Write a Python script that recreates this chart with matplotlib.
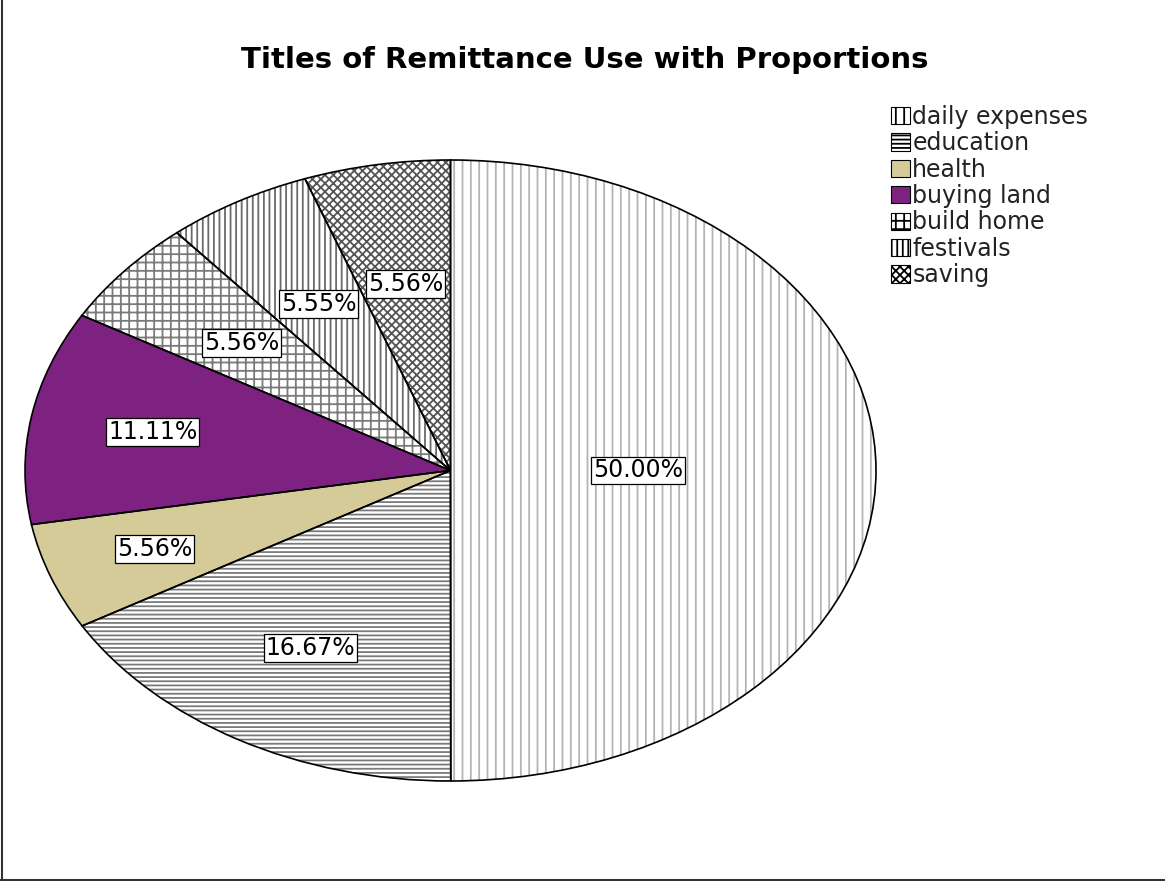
import numpy as np
import matplotlib
matplotlib.use("Agg")
import matplotlib.pyplot as plt
from matplotlib.patches import Patch
from matplotlib.lines import Line2D

categories = ["daily expenses", "education", "health", "buying land",
              "build home", "festivals", "saving"]
shares = [50.00, 16.67, 5.56, 11.11, 5.56, 5.56, 5.56]
share_labels = ["50.00%", "16.67%", "5.56%", "11.11%", "5.56%", "5.55%", "5.56%"]

face_colors = ["white", "white", "#d5cb98", "#7e2282", "white", "white", "white"]
hatches = ["||", "----", "", "", "++", "|||", "xxxx"]
hatch_colors = ["#b4b4b4", "#7a7a7a", "#d5cb98", "#7e2282", "#7a7a7a", "#6a6a6a", "#555555"]
label_dist = [0.44, 0.66, 0.74, 0.71, 0.64, 0.62, 0.61]

plt.rcParams["font.family"] = ["DejaVu Sans"]
plt.rcParams["hatch.linewidth"] = 1.3

fig = plt.figure(figsize=(11.65, 8.81), dpi=100)
ax = fig.add_axes([25 / 1165, 100 / 881, 851 / 1165, 621 / 881])

# filled + hatched wedges
wedges, _ = ax.pie(shares, startangle=90, counterclock=False,
                   wedgeprops=dict(linewidth=0))
for w, fc, h, hc in zip(wedges, face_colors, hatches, hatch_colors):
    w.set_facecolor(fc)
    w.set_edgecolor(hc)
    w.set_hatch(h)

# black outlines on top
outline, _ = ax.pie(shares, startangle=90, counterclock=False,
                    wedgeprops=dict(facecolor="none", edgecolor="black", linewidth=1.2))

for w, txt, d in zip(wedges, share_labels, label_dist):
    mid = np.deg2rad((w.theta1 + w.theta2) / 2)
    ax.text(d * np.cos(mid), d * np.sin(mid), txt, ha="center", va="center",
            fontsize=17, color="black",
            bbox=dict(boxstyle="square,pad=0.08", facecolor="white",
                      edgecolor="black", linewidth=0.9))

ax.set_aspect("auto")
ax.set_xlim(-1, 1)
ax.set_ylim(-1, 1)
ax.axis("off")

fig.text(585 / 1165, 1 - 60 / 881, "Titles of Remittance Use with Proportions",
         ha="center", va="center", fontsize=21, fontweight="bold")

handles = [Patch(facecolor=fc, edgecolor="black", hatch=h, linewidth=0.8)
           for fc, h in zip(face_colors, hatches)]
fig.legend(handles, categories, loc="upper left",
           bbox_to_anchor=(891 / 1165, 1 - 105 / 881), frameon=False,
           fontsize=17, handlelength=0.8, handleheight=0.75, handletextpad=0.1,
           labelspacing=0.1, borderpad=0, borderaxespad=0, labelcolor="#222222")

# frame edges of the original screenshot
fig.add_artist(Line2D([2 / 1165, 2 / 1165], [0, 1], color="#333333", linewidth=1.5))
fig.add_artist(Line2D([0, 1], [1.5 / 881, 1.5 / 881], color="#333333", linewidth=1.5))

fig.savefig("out.png", dpi=100)
